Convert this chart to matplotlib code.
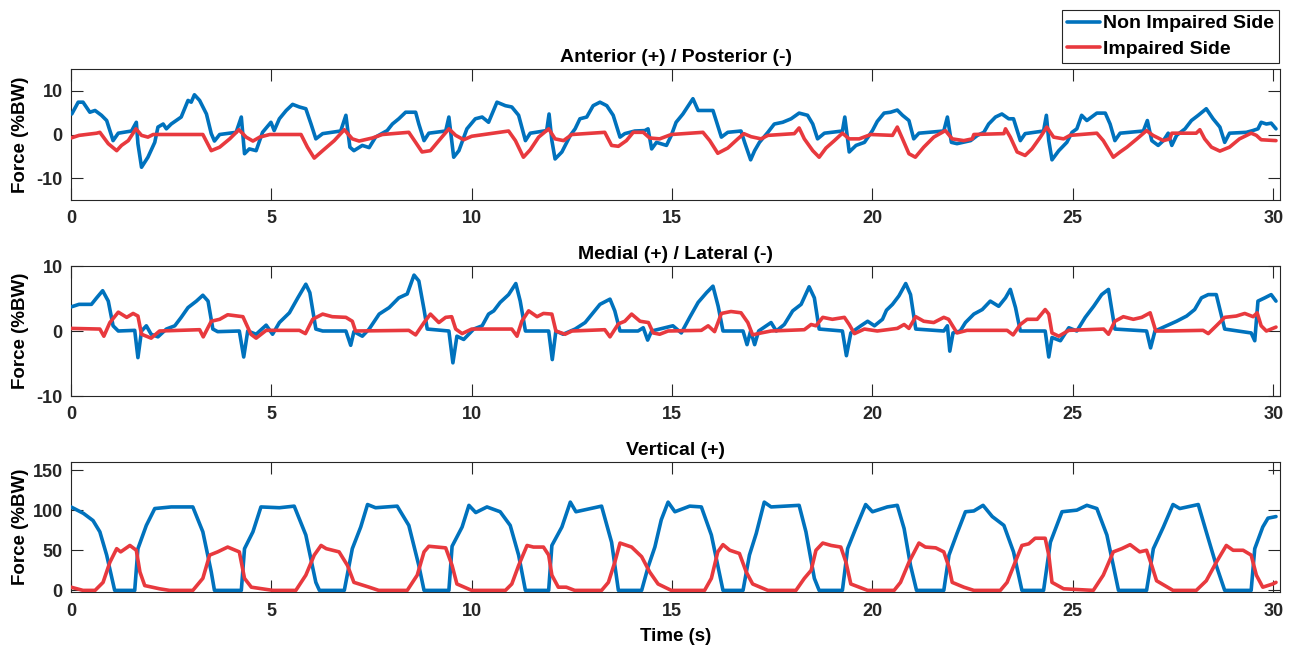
import matplotlib
matplotlib.use("Agg")
import matplotlib.pyplot as plt

plt.rcParams['font.family'] = ['Liberation Sans', 'DejaVu Sans']
plt.rcParams['font.weight'] = 'bold'
plt.rcParams['axes.unicode_minus'] = False

# ---------------- data ----------------
xticks = [0, 5, 10, 15, 20, 25, 30]
titles = ["Anterior (+) / Posterior (-)", "Medial (+) / Lateral (-)", "Vertical (+)"]
series_names = ["Non Impaired Side", "Impaired Side"]

ap_blue_t = [0.02, 0.18, 0.3, 0.47, 0.6, 0.76, 0.89, 1.05, 1.18, 1.51, 1.63, 1.67, 1.76, 1.92, 2.09, 2.17, 2.3, 2.38, 2.5, 2.75,
             2.92, 3.0, 3.08, 3.21, 3.38, 3.5, 3.58, 3.71, 4.12, 4.25, 4.33, 4.45, 4.62, 4.78, 4.99, 5.07, 5.2, 5.37, 5.53, 5.7,
             5.86, 5.99, 6.11, 6.28, 6.73, 6.86, 6.96, 7.06, 7.27, 7.44, 7.6, 7.89, 8.02, 8.18, 8.35, 8.6, 8.68, 8.81, 8.93, 9.35,
             9.43, 9.55, 9.68, 9.88, 10.09, 10.26, 10.42, 10.63, 10.84, 11.0, 11.17, 11.34, 11.46, 11.87, 11.93, 12.0, 12.08, 12.25, 12.46, 12.58,
             12.7, 12.87, 13.03, 13.2, 13.37, 13.53, 13.7, 13.82, 14.07, 14.32, 14.4, 14.49, 14.61, 14.86, 14.98, 15.1, 15.27, 15.52, 15.65, 15.81,
             16.02, 16.23, 16.39, 16.72, 16.81, 16.96, 17.06, 17.18, 17.39, 17.55, 17.76, 17.97, 18.17, 18.38, 18.51, 18.63, 18.8, 19.25, 19.31, 19.42,
             19.59, 19.8, 20.0, 20.12, 20.29, 20.45, 20.62, 20.75, 20.91, 21.03, 21.16, 21.78, 21.87, 21.97, 22.11, 22.45, 22.62, 22.78, 22.9, 23.07,
             23.23, 23.4, 23.52, 23.69, 23.81, 24.27, 24.34, 24.4, 24.48, 24.65, 24.85, 24.98, 25.1, 25.22, 25.35, 25.6, 25.81, 25.93, 26.05, 26.18,
             26.76, 26.86, 26.97, 27.13, 27.26, 27.38, 27.47, 27.59, 27.8, 27.96, 28.13, 28.33, 28.5, 28.67, 28.79, 28.91, 29.33, 29.49, 29.62, 29.7,
             29.83, 29.95, 30.07]
ap_blue_v = [4.7, 7.4, 7.4, 5.1, 5.5, 4.4, 3.2, -1.4, 0.3, 0.8, 2.8, -2.1, -7.5, -5.2, -1.8, 1.7, 2.4, 1.3, 2.4, 4.0,
             7.8, 7.4, 9.1, 7.8, 4.7, 0.2, -1.5, 0.0, 0.5, 4.0, -4.4, -3.3, -3.7, 0.5, 2.8, 0.9, 3.6, 5.5, 6.9, 6.3,
             5.9, 2.4, -1.0, 0.2, 0.8, 4.4, -2.9, -3.7, -2.5, -3.0, -0.6, 0.9, 2.4, 3.6, 5.1, 5.1, 2.4, -1.4, 0.3, 0.8,
             4.0, -5.2, -3.7, 1.3, 3.6, 4.0, 2.8, 7.4, 6.6, 6.3, 4.4, -1.4, 0.3, 0.9, 4.7, -1.4, -5.6, -4.0, -0.2, 1.3,
             3.6, 4.0, 6.6, 7.4, 6.6, 4.4, -0.6, 0.2, 0.8, 0.9, 1.3, -3.3, -1.8, -2.5, -0.2, 2.8, 4.7, 8.2, 5.5, 5.5,
             5.5, -0.6, 0.5, 0.8, -1.8, -5.8, -3.7, -1.8, 0.5, 2.4, 2.8, 3.6, 4.9, 4.4, 2.4, -1.0, 0.3, 0.8, 4.0, -4.0,
             -2.5, -1.8, 0.9, 3.0, 4.9, 5.1, 5.6, 4.4, 3.2, -1.0, 0.3, 0.8, 4.0, -1.8, -2.1, -1.4, -0.2, 0.5, 2.4, 4.0,
             4.7, 3.6, 3.6, -1.4, 0.2, 0.8, 4.4, -1.4, -5.8, -3.7, -1.8, 0.5, 1.3, 4.4, 3.2, 4.9, 4.9, 2.4, -1.4, 0.3,
             0.8, 3.2, -1.4, -2.5, -1.4, 0.3, -2.5, -0.2, 1.3, 3.2, 4.4, 5.9, 3.6, 1.7, -1.8, 0.3, 0.5, 0.9, 1.3, 2.8,
             2.4, 2.6, 1.3]

ap_red_t = [0, 0.2, 0.64, 0.72, 0.93, 1.14, 1.26, 1.43, 1.62, 1.76, 1.92, 2.05, 3.29, 3.5, 3.71, 3.96, 4.19, 4.37, 4.54, 4.71,
            4.96, 5.74, 5.9, 6.07, 6.28, 6.57, 6.82, 7.02, 7.19, 7.52, 7.77, 8.43, 8.6, 8.76, 8.97, 9.18, 9.43, 9.6, 9.8, 10.0,
            10.92, 11.09, 11.29, 11.46, 11.67, 11.92, 12.08, 12.29, 12.5, 13.32, 13.49, 13.66, 13.86, 14.03, 14.28, 14.44, 14.69, 14.98, 15.77, 15.94,
            16.14, 16.39, 16.64, 16.79, 16.97, 17.22, 17.39, 18.05, 18.17, 18.3, 18.51, 18.67, 18.84, 19.05, 19.25, 19.42, 19.67, 19.96, 20.5, 20.62,
            20.75, 20.91, 21.07, 21.28, 21.53, 21.82, 21.99, 22.28, 22.49, 22.53, 23.28, 23.32, 23.44, 23.61, 23.81, 23.98, 24.19, 24.35, 24.52, 24.77,
            24.93, 25.6, 25.76, 26.01, 26.18, 26.35, 26.6, 26.84, 27.0, 27.26, 27.42, 27.47, 28.08, 28.17, 28.29, 28.46, 28.67, 28.91, 29.16, 29.45,
            29.58, 29.7, 30.07]
ap_red_v = [-0.8, -0.2, 0.3, 0.5, -2.1, -3.7, -2.5, -1.4, 1.3, -0.2, -0.6, 0.0, 0.0, -3.7, -2.9, -1.0, 1.1, -0.6, -1.5, -0.6,
            0.0, 0.0, -2.9, -5.4, -3.7, -1.4, 1.1, -1.0, -1.5, -0.8, 0.0, 0.5, -1.8, -4.0, -3.7, -1.4, 1.3, -0.2, -1.2, -0.4,
            0.8, -1.4, -5.2, -3.5, -0.6, 1.3, -1.0, -1.4, 0.0, 0.5, -2.5, -2.7, -1.4, 0.5, 0.5, -0.8, -1.0, 0.0, 0.5, -1.4,
            -4.3, -3.1, -1.0, 0.2, -0.5, -1.0, -0.2, 0.2, 1.5, -1.0, -3.7, -5.2, -3.1, -1.4, 0.3, -1.0, -1.0, 0.0, -0.2, 1.7,
            -1.0, -4.4, -5.2, -2.9, -0.6, 0.9, -1.0, -1.4, -1.0, 0.0, 0.2, 1.3, -0.6, -4.0, -4.8, -3.3, -0.6, 1.7, -0.6, -1.0,
            -0.2, 0.3, -1.4, -5.2, -4.0, -2.9, -1.0, 0.9, -0.2, -1.4, -1.0, 0.3, 0.3, 1.1, -1.0, -2.9, -3.8, -2.9, -1.0, 0.3,
            -0.2, -1.2, -1.4]

ml_blue_t = [0, 0.2, 0.51, 0.64, 0.79, 0.93, 1.05, 1.18, 1.59, 1.67, 1.76, 1.88, 2.0, 2.17, 2.38, 2.59, 2.75, 2.92, 3.13, 3.29,
             3.42, 3.54, 3.66, 4.2, 4.31, 4.41, 4.62, 4.87, 5.03, 5.2, 5.45, 5.66, 5.86, 5.96, 6.11, 6.28, 6.86, 6.98, 7.06, 7.27,
             7.44, 7.69, 7.94, 8.18, 8.39, 8.56, 8.68, 8.81, 8.89, 9.43, 9.53, 9.63, 9.8, 10.05, 10.26, 10.42, 10.55, 10.71, 10.92, 11.1,
             11.21, 11.34, 11.92, 12.01, 12.1, 12.28, 12.58, 12.83, 13.03, 13.2, 13.45, 13.57, 13.7, 14.15, 14.28, 14.39, 14.49, 14.82, 15.02, 15.23,
             15.44, 15.65, 15.86, 16.02, 16.15, 16.27, 16.77, 16.87, 16.96, 17.06, 17.16, 17.47, 17.6, 17.8, 18.01, 18.22, 18.42, 18.55, 18.67, 19.25,
             19.35, 19.46, 19.71, 19.88, 20.05, 20.25, 20.35, 20.5, 20.66, 20.83, 20.95, 21.08, 21.78, 21.87, 21.93, 22.01, 22.19, 22.32, 22.53, 22.74,
             22.94, 23.15, 23.32, 23.44, 23.57, 23.69, 24.31, 24.4, 24.48, 24.69, 24.9, 25.1, 25.31, 25.52, 25.72, 25.89, 26.05, 26.84, 26.94, 27.05,
             27.34, 27.59, 27.84, 28.04, 28.21, 28.38, 28.58, 28.79, 29.45, 29.54, 29.62, 29.79, 29.95, 30.07]
ml_blue_v = [3.7, 4.1, 4.1, 5.1, 6.2, 4.6, 0.8, 0.0, 0.1, -4.1, 0.0, 0.8, -0.5, -0.9, 0.3, 0.8, 2.1, 3.6, 4.6, 5.5,
             4.6, 0.3, -0.1, 0.0, -4.0, 0.0, -0.5, 0.9, -0.5, 1.3, 2.8, 5.1, 7.2, 5.9, 0.3, 0.0, 0.0, -2.2, -0.1, -0.8,
             0.3, 2.6, 3.6, 5.1, 5.7, 8.6, 7.7, 3.3, 0.3, 0.0, -4.9, -0.8, -1.3, 0.3, 0.8, 2.6, 3.1, 4.4, 5.6, 7.3,
             4.6, 0.0, 0.0, -4.4, 0.0, -0.5, 0.3, 1.3, 2.8, 4.1, 4.9, 3.1, 0.0, 0.0, 0.5, -1.4, 0.0, 0.5, 0.8, -0.3,
             2.1, 4.4, 5.9, 6.9, 3.8, 0.0, 0.0, -2.1, 0.0, -2.1, 0.0, 1.3, 0.0, 1.0, 3.1, 4.1, 6.8, 5.1, 0.3, 0.0,
             -3.8, -0.3, 0.8, 1.5, 0.8, 1.8, 3.2, 4.1, 5.4, 7.3, 5.6, 0.3, 0.0, 0.8, -3.1, -0.3, 0.0, 1.3, 2.6, 3.3,
             4.6, 3.8, 5.1, 6.4, 3.6, 0.0, 0.0, -4.0, -1.0, -1.5, 0.5, 0.0, 2.1, 3.8, 5.6, 6.4, 0.3, 0.0, -2.6, 0.0,
             0.8, 1.5, 2.3, 3.3, 5.1, 5.6, 5.6, 0.3, -0.3, -1.5, 4.6, 5.1, 5.6, 4.6]

ml_red_t = [0, 0.72, 0.82, 0.97, 1.18, 1.39, 1.55, 1.67, 1.76, 2.0, 2.21, 3.21, 3.3, 3.5, 3.71, 3.91, 4.29, 4.49, 4.62, 4.87,
            5.7, 5.85, 6.03, 6.28, 6.52, 6.86, 7.02, 7.1, 8.43, 8.6, 8.81, 8.97, 9.18, 9.35, 9.5, 9.6, 9.76, 10.0, 11.0, 11.13,
            11.25, 11.42, 11.63, 11.79, 12.0, 12.1, 12.33, 12.5, 13.32, 13.45, 13.66, 13.82, 13.99, 14.2, 14.41, 14.53, 14.69, 14.9, 15.73, 15.9,
            16.06, 16.23, 16.47, 16.72, 16.89, 17.01, 17.22, 17.47, 18.3, 18.47, 18.59, 18.76, 19.0, 19.3, 19.42, 19.55, 19.8, 20.12, 20.62, 20.79,
            20.91, 21.08, 21.28, 21.53, 21.78, 21.9, 22.11, 22.36, 23.36, 23.51, 23.69, 23.86, 24.11, 24.31, 24.4, 24.48, 24.65, 24.9, 25.77, 25.89,
            26.05, 26.26, 26.51, 26.72, 26.93, 27.07, 27.34, 28.25, 28.38, 28.58, 28.79, 29.08, 29.29, 29.5, 29.6, 29.7, 29.83, 30.07]
ml_red_v = [0.4, 0.3, -0.8, 1.3, 2.9, 2.1, 2.7, 2.3, -0.5, -1.1, 0.0, 0.2, -0.9, 1.5, 1.8, 2.5, 2.2, -0.5, -1.1, 0.1,
            0.1, -0.4, 1.8, 2.6, 2.2, 2.1, 1.5, 0.0, 0.1, -0.6, 1.3, 2.6, 1.3, 2.1, 2.2, 0.3, -0.4, 0.3, 0.3, -0.8,
            1.5, 3.1, 2.2, 2.7, 2.6, 0.0, -0.5, 0.0, 0.2, -0.9, 1.1, 1.5, 2.6, 1.5, 1.3, -0.3, -0.5, 0.0, 0.1, 0.8,
            -0.1, 2.7, 3.0, 2.8, 1.3, -0.6, -0.3, 0.0, 0.2, 1.0, 0.8, 2.1, 1.8, 2.1, 1.0, -0.4, 0.3, 0.0, 0.4, 1.0,
            0.4, 2.2, 1.5, 1.3, 2.1, 1.8, -0.3, 0.1, 0.1, -0.6, 1.0, 1.8, 1.8, 3.3, 2.6, -0.3, -0.8, 0.1, 0.3, -0.5,
            1.5, 2.2, 1.8, 2.1, 2.8, 0.0, 0.0, 0.1, -0.4, 0.8, 2.1, 2.3, 2.7, 2.2, 2.8, 0.8, 0.0, 0.6]

vt_blue_t = [0, 0.31, 0.55, 0.72, 0.89, 1.09, 1.59, 1.67, 1.88, 2.09, 2.5, 3.04, 3.29, 3.5, 3.58, 4.25, 4.33, 4.54, 4.74, 5.2,
             5.57, 5.86, 6.11, 6.2, 6.82, 7.02, 7.23, 7.4, 7.6, 8.14, 8.43, 8.68, 8.81, 9.43, 9.51, 9.76, 9.93, 10.1, 10.38, 10.71,
             10.96, 11.17, 11.34, 11.92, 12.0, 12.25, 12.46, 12.6, 13.24, 13.49, 13.66, 14.24, 14.4, 14.57, 14.73, 14.9, 15.07, 15.44, 15.73, 15.98,
             16.14, 16.27, 16.77, 16.93, 17.1, 17.3, 17.47, 18.17, 18.34, 18.55, 18.67, 19.25, 19.38, 19.58, 19.83, 20.0, 20.37, 20.62, 20.79, 20.95,
             21.1, 21.78, 21.91, 22.11, 22.32, 22.53, 22.76, 22.99, 23.28, 23.52, 23.73, 24.27, 24.44, 24.73, 25.1, 25.35, 25.6, 25.85, 26.01, 26.14,
             26.84, 27.01, 27.26, 27.5, 27.67, 28.13, 28.33, 28.58, 28.79, 29.45, 29.54, 29.74, 29.87, 30.07]
vt_blue_v = [104, 96, 87, 73, 44, 0, 0, 52, 81, 102, 104, 104, 73, 23, 0, 0, 52, 73, 104, 103,
             105, 69, 10, 0, 0, 52, 79, 107, 103, 105, 81, 31, 0, 0, 55, 79, 106, 97, 104, 98,
             81, 44, 0, 0, 56, 79, 110, 98, 105, 60, 0, 0, 29, 54, 88, 110, 98, 105, 104, 69,
             31, 0, 0, 44, 71, 110, 104, 106, 73, 15, 0, 0, 52, 77, 107, 98, 104, 106, 77, 31,
             0, 0, 44, 71, 98, 99, 106, 92, 81, 48, 0, 0, 60, 98, 100, 106, 102, 69, 31, 0,
             0, 52, 79, 107, 102, 107, 73, 31, 0, 0, 52, 79, 90, 92]

vt_red_t = [0, 0.3, 0.6, 0.8, 0.97, 1.14, 1.24, 1.47, 1.63, 1.72, 1.84, 2.21, 2.46, 3.04, 3.29, 3.46, 3.66, 3.91, 4.2, 4.33,
            4.5, 5.04, 5.61, 5.86, 6.07, 6.24, 6.37, 6.69, 6.9, 7.06, 7.44, 7.68, 8.39, 8.64, 8.81, 8.93, 9.35, 9.51, 9.63, 10.0,
            10.84, 11.0, 11.17, 11.38, 11.54, 11.79, 11.92, 12.0, 12.16, 12.36, 12.57, 13.24, 13.41, 13.57, 13.7, 13.99, 14.24, 14.44, 14.65, 14.98,
            15.81, 15.98, 16.14, 16.27, 16.44, 16.68, 16.85, 17.01, 17.39, 18.09, 18.3, 18.47, 18.59, 18.76, 18.97, 19.21, 19.34, 19.46, 19.88, 20.54,
            20.7, 20.91, 21.16, 21.32, 21.58, 21.78, 21.91, 21.99, 22.28, 22.53, 23.19, 23.36, 23.56, 23.73, 23.9, 24.06, 24.31, 24.4, 24.48, 24.77,
            25.51, 25.76, 26.01, 26.22, 26.43, 26.67, 26.84, 26.97, 27.09, 27.5, 28.08, 28.33, 28.58, 28.83, 29.0, 29.25, 29.45, 29.58, 29.74, 29.99,
            30.07]
vt_red_v = [4, 0, 0, 10, 35, 52, 48, 56, 50, 23, 6, 2, 0, 0, 15, 44, 48, 54, 48, 15,
            4, 0, 0, 19, 44, 56, 52, 48, 31, 10, 4, 0, 0, 19, 48, 55, 53, 31, 8, 0,
            0, 8, 31, 56, 54, 54, 44, 19, 4, 4, 0, 0, 10, 35, 59, 54, 42, 23, 8, 0,
            0, 15, 48, 57, 50, 46, 23, 8, 0, 0, 15, 25, 50, 59, 56, 54, 35, 8, 0, 0,
            10, 35, 59, 54, 53, 48, 29, 10, 4, 0, 0, 10, 35, 56, 58, 65, 65, 44, 10, 2,
            0, 19, 48, 52, 57, 48, 50, 31, 12, 0, 0, 12, 35, 56, 50, 50, 44, 19, 4, 8,
            10]

# ---------------- styling ----------------
BLUE = '#0072BD'
RED = '#E8393E'
W, H = 1295, 651
fig = plt.figure(figsize=(W / 100, H / 100), dpi=100)

left, right = 71 / W, 1280 / W
panels = [
    (69, 200, (-15, 15), [-10, 0, 10], ap_blue_t, ap_blue_v, ap_red_t, ap_red_v),
    (266, 396, (-10, 10), [-10, 0, 10], ml_blue_t, ml_blue_v, ml_red_t, ml_red_v),
    (462, 592, (-2, 160), [0, 50, 100, 150], vt_blue_t, vt_blue_v, vt_red_t, vt_red_v),
]

axes = []
for i, (top, bot, ylim, yt, bt, bv, rt, rv) in enumerate(panels):
    ax = fig.add_axes([left, 1 - bot / H, right - left, (bot - top) / H])
    lb, = ax.plot(bt, bv, color=BLUE, lw=2.6, solid_joinstyle='round', solid_capstyle='round',
                  label=series_names[0], zorder=3)
    lr, = ax.plot(rt, rv, color=RED, lw=2.6, solid_joinstyle='round', solid_capstyle='round',
                  label=series_names[1], zorder=4)
    ax.set_xlim(0, 30.17)
    ax.set_ylim(*ylim)
    ax.set_xticks(xticks)
    ax.set_yticks(yt)
    ax.tick_params(direction='in', length=8.5, width=0.8, top=True, right=True,
                   labelsize=13, colors='#262626')
    ax.tick_params(axis='x', pad=8 if i == 2 else 7)
    ax.tick_params(axis='y', pad=6)
    for lab in ax.get_xticklabels() + ax.get_yticklabels():
        lab.set_fontweight('bold')
    for sp in ax.spines.values():
        sp.set_color('#262626')
        sp.set_linewidth(0.8)
    ax.set_title(titles[i], fontsize=14, fontweight='bold', pad=5)
    ax.set_ylabel('Force (%BW)', fontsize=13.5, fontweight='bold')
    ax.yaxis.set_label_coords(-0.0348, 0.5)
    axes.append((ax, lb, lr))

axes[-1][0].set_xlabel('Time (s)', fontsize=13.5, fontweight='bold', labelpad=6)

ax0, lb, lr = axes[0]
leg = fig.legend([lb, lr], series_names, loc='upper right',
                 bbox_to_anchor=(1279 / W, 1 - 10 / H), fancybox=False, framealpha=1,
                 edgecolor='#262626', fontsize=14, handlelength=1.7, handletextpad=0.15,
                 borderpad=0.25, labelspacing=0.4, borderaxespad=0)
leg.get_frame().set_linewidth(0.8)
for t in leg.get_texts():
    t.set_fontweight('bold')

fig.savefig('out.png', dpi=100)
